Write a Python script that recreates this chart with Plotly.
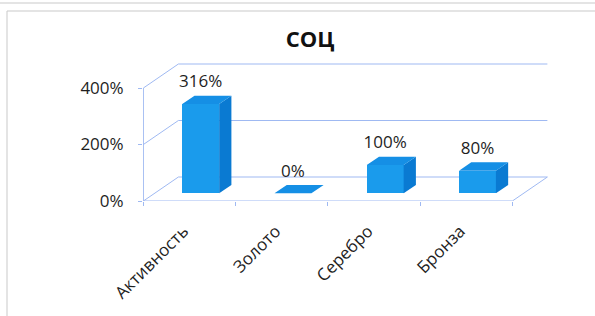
import numpy as np
import plotly.graph_objects as go

# ---------------- data ----------------
categories = ["Активность", "Золото", "Серебро", "Бронза"]
values = [316, 0, 100, 80]
y_ticks = [0, 200, 400]
y_tick_labels = ["0%", "200%", "400%"]
title_text = "<b>СОЦ</b>"

# ---------------- layout geometry (pixels) ----------------
W, H = 595, 316
PX_X0, PX_PER_CAT = 189.5, 92.25      # front plane: pixel of category 0, pixels per category
PX_Y0, PX_PER_PCT = 201.0, 0.2825     # front plane: pixel of 0%, pixels per percent
L, R, T, B = 143, 558, 55, 201        # plot area edges

x_range = [(L - PX_X0) / PX_PER_CAT, (R - PX_X0) / PX_PER_CAT]
y_range = [(PX_Y0 - B) / PX_PER_PCT, (PX_Y0 - T) / PX_PER_PCT]

DX = 35 / PX_PER_CAT      # floor depth in category units
DY = 24 / PX_PER_PCT      # floor depth in percent units
F = 0.32                  # position of bar front plane within depth
BD = 0.35                 # bar depth as fraction of floor depth
BW = 0.40                 # bar width
LABEL_LIFT = 4 / PX_PER_PCT

FRONT = "#1A9BEC"
SIDE = "#0A7AD2"
TOP = "#158FE5"
GRID = "#9FB9F2"
TXT = "#1E1E1E"
FONT = "Open Sans"

n = len(categories)
idx = np.arange(n)
xc = idx + F * DX
base = F * DY
bx, by = BD * DX, BD * DY

fig = go.Figure()

# bar front faces
fig.add_trace(go.Bar(x=xc, y=values, base=[base] * n, width=BW,
                     marker=dict(color=FRONT, line=dict(width=0)),
                     hoverinfo="skip", showlegend=False))

# side and top faces derived from values
sx, sy, tx, ty = [], [], [], []
for c, v in zip(xc, values):
    xl, xr = c - BW / 2, c + BW / 2
    top = base + v
    sx += [xr, xr + bx, xr + bx, xr, xr, None]
    sy += [base, base + by, top + by, top, base, None]
    tx += [xl, xr, xr + bx, xl + bx, xl, None]
    ty += [top, top, top + by, top + by, top, None]
fig.add_trace(go.Scatter(x=sx, y=sy, mode="lines", fill="toself", fillcolor=SIDE,
                         line=dict(width=0, color=SIDE), hoverinfo="skip", showlegend=False))
fig.add_trace(go.Scatter(x=tx, y=ty, mode="lines", fill="toself", fillcolor=TOP,
                         line=dict(width=0, color=TOP), hoverinfo="skip", showlegend=False))

# data labels
fig.add_trace(go.Scatter(x=xc, y=[base + v + by + LABEL_LIFT for v in values], mode="text",
                         text=[f"{v}%" for v in values], textposition="top center",
                         textfont=dict(family=FONT, size=17, color=TXT),
                         hoverinfo="skip", showlegend=False))

# 3D walls (decoration, derived from ticks)
shapes = []
x_left, x_right = idx[0] - 0.5, idx[-1] + 0.5
for v in y_ticks:
    shapes.append(dict(type="line", xref="x", yref="y", x0=x_left + DX, x1=x_right + DX,
                       y0=v + DY, y1=v + DY, line=dict(color=GRID, width=1), layer="below"))
    shapes.append(dict(type="line", xref="x", yref="y", x0=x_left, x1=x_left + DX,
                       y0=v, y1=v + DY, line=dict(color=GRID, width=1), layer="below"))
shapes.append(dict(type="line", xref="x", yref="y", x0=x_right, x1=x_right + DX,
                   y0=0, y1=DY, line=dict(color=GRID, width=1), layer="below"))
shapes.append(dict(type="line", xref="x", yref="y", x0=x_left, x1=x_right,
                   y0=0, y1=0, line=dict(color=GRID, width=1), layer="below"))
shapes.append(dict(type="line", xref="x", yref="y", x0=x_left, x1=x_left,
                   y0=0, y1=max(y_ticks), line=dict(color=GRID, width=1), layer="below"))


# outer frame (paper coords from pixels)
def px(p):
    return (p - L) / (R - L)


def py(p):
    return (B - p) / (B - T)


FR = "#C9C9C9"
shapes.append(dict(type="line", xref="paper", yref="paper", x0=px(0), x1=px(W),
                   y0=py(3), y1=py(3), line=dict(color=FR, width=1)))
shapes.append(dict(type="line", xref="paper", yref="paper", x0=px(7), x1=px(W),
                   y0=py(11), y1=py(11), line=dict(color=FR, width=1)))
shapes.append(dict(type="line", xref="paper", yref="paper", x0=px(7), x1=px(7),
                   y0=py(11), y1=py(H), line=dict(color=FR, width=1)))

fig.update_layout(
    width=W, height=H,
    margin=dict(l=L, r=W - R, t=T, b=H - B, autoexpand=False),
    paper_bgcolor="white", plot_bgcolor="rgba(0,0,0,0)",
    title=dict(text=title_text, x=310 / W, xref="container", xanchor="center",
               y=1 - 39 / H, yref="container", yanchor="middle",
               font=dict(family=FONT, size=22, color="#111111")),
    shapes=shapes,
    bargap=0,
    showlegend=False,
)
fig.update_xaxes(range=x_range, tickvals=idx, ticktext=categories, tickangle=-45,
                 ticks="", showgrid=False, zeroline=False, showline=False,
                 ticklabelstandoff=16, ticklabelshift=-6,
                 tickfont=dict(family=FONT, size=17, color=TXT),
                 minor=dict(tickvals=list(idx - 0.5) + [idx[-1] + 0.5], ticks="outside",
                            ticklen=4, tickcolor=GRID, showgrid=False))
fig.update_yaxes(range=y_range, tickvals=y_ticks, ticktext=y_tick_labels,
                 ticks="outside", ticklen=4, tickcolor=GRID, ticklabelstandoff=11,
                 showgrid=False, zeroline=False, showline=False,
                 tickfont=dict(family=FONT, size=17, color=TXT))

fig.write_html("out.html", config={"displayModeBar": False},
               post_script="document.body.style.margin='0';document.body.style.overflow='hidden';")
